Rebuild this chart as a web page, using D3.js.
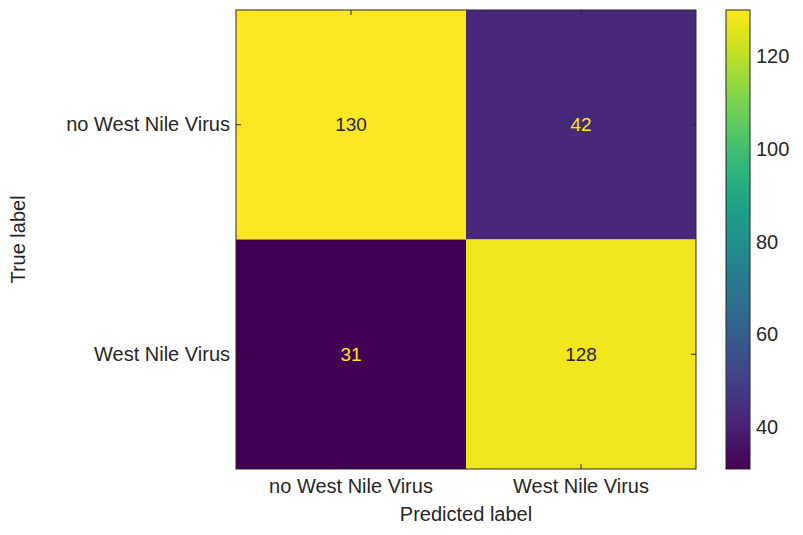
<!DOCTYPE html>
<html>
<head>
<meta charset="utf-8">
<script src="https://cdn.jsdelivr.net/npm/d3@7"></script>
<style>
  body { margin: 0; background: #fff; }
  text { font-family: "Liberation Sans", Arial, sans-serif; fill: #262626; }
</style>
</head>
<body>
<svg id="chart" width="803" height="535"></svg>
<script>
const labels = ["no West Nile Virus", "West Nile Virus"];
// rows = true label, columns = predicted label
const matrix = [
  [130, 42],
  [31, 128]
];
const cbarTicks = [40, 60, 80, 100, 120];

const svg = d3.select("#chart");
const plot = { left: 236, top: 10, width: 460, height: 459 };
const cells = matrix.flatMap((row, i) => row.map((v, j) => ({ i, j, v })));
const vmin = d3.min(cells, d => d.v), vmax = d3.max(cells, d => d.v);
const color = d3.scaleSequential(d3.interpolateViridis).domain([vmin, vmax]);

const x = d3.scaleBand().domain(labels).range([plot.left, plot.left + plot.width]);
const y = d3.scaleBand().domain(labels).range([plot.top, plot.top + plot.height]);

svg.append("g").selectAll("rect")
  .data(cells)
  .enter().append("rect")
  .attr("x", d => x(labels[d.j]))
  .attr("y", d => y(labels[d.i]))
  .attr("width", x.bandwidth())
  .attr("height", y.bandwidth())
  .attr("fill", d => color(d.v));

svg.append("g").selectAll("text")
  .data(cells)
  .enter().append("text")
  .attr("x", d => x(labels[d.j]) + x.bandwidth() / 2)
  .attr("y", d => y(labels[d.i]) + y.bandwidth() / 2)
  .attr("text-anchor", "middle")
  .attr("dy", "0.35em")
  .style("font-size", "19px")
  .style("fill", d => d.v > (vmin + vmax) / 2 ? "#262626" : "#fde725")
  .text(d => d.v);

// frame
svg.append("rect")
  .attr("x", plot.left).attr("y", plot.top)
  .attr("width", plot.width).attr("height", plot.height)
  .attr("fill", "none").attr("stroke", "#262626").attr("stroke-width", 1);

// axes, ticks pointing inward
const xAxis = svg.append("g")
  .attr("transform", `translate(0,${plot.top + plot.height})`)
  .call(d3.axisBottom(x).tickSize(-5).tickPadding(10));
const yAxis = svg.append("g")
  .attr("transform", `translate(${plot.left},0)`)
  .call(d3.axisLeft(y).tickSize(-5).tickPadding(6));
svg.append("g")
  .attr("transform", `translate(${plot.left + plot.width},0)`)
  .call(d3.axisRight(y).tickSize(-5).tickFormat(""));
svg.append("g")
  .attr("transform", `translate(0,${plot.top})`)
  .call(d3.axisTop(x).tickSize(-5).tickFormat(""));
svg.selectAll(".domain").remove();
svg.selectAll(".tick line").attr("stroke", "#262626");
[xAxis, yAxis].forEach(a => a.selectAll("text").style("font-size", "20px").style("fill", "#262626"));

svg.append("text")
  .attr("x", plot.left + plot.width / 2).attr("y", 521)
  .attr("text-anchor", "middle").style("font-size", "20px")
  .text("Predicted label");
svg.append("text")
  .attr("transform", `translate(25,${plot.top + plot.height / 2}) rotate(-90)`)
  .attr("text-anchor", "middle").style("font-size", "20px")
  .text("True label");

// colorbar
const cb = { left: 726, width: 24 };
const cy = d3.scaleLinear().domain([vmin, vmax]).range([plot.top + plot.height, plot.top]);
const grad = svg.append("defs").append("linearGradient")
  .attr("id", "cbgrad").attr("x1", 0).attr("y1", 1).attr("x2", 0).attr("y2", 0);
d3.range(0, 1.0001, 0.05).forEach(t => {
  grad.append("stop").attr("offset", t).attr("stop-color", color(vmin + t * (vmax - vmin)));
});
svg.append("rect")
  .attr("x", cb.left).attr("y", plot.top)
  .attr("width", cb.width).attr("height", plot.height)
  .attr("fill", "url(#cbgrad)").attr("stroke", "#262626").attr("stroke-width", 1);
const cbAxis = svg.append("g")
  .attr("transform", `translate(${cb.left + cb.width},0)`)
  .call(d3.axisRight(cy).tickValues(cbarTicks).tickSize(0).tickPadding(6));
cbAxis.select(".domain").remove();
cbAxis.selectAll("text").style("font-size", "20px").style("fill", "#262626");
</script>
</body>
</html>
